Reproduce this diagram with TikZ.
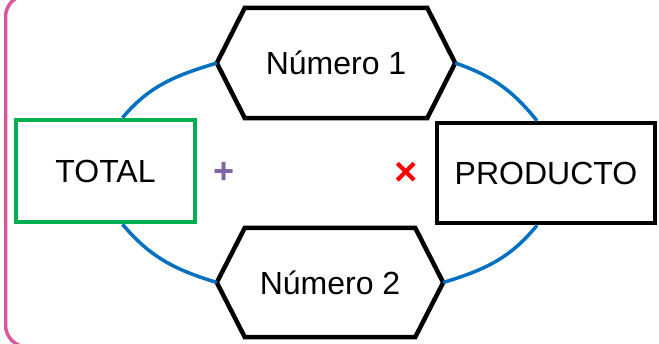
\documentclass[tikz,border=0pt]{standalone}
\usepackage{fontspec}
\setmainfont{Liberation Sans}
\usepackage{tikz}

\definecolor{linkblue}{HTML}{0070C0}
\definecolor{framepink}{HTML}{D9589C}
\definecolor{totalgreen}{HTML}{00B050}
\definecolor{opviolet}{HTML}{8064A2}

\tikzset{
    label font/.style = {font = \fontsize{32}{36}\selectfont},
    hexnode/.style = {label font, inner sep = 0pt},
    hexline/.style = {draw = black, line width = 4.5pt, line join = miter, fill = white},
    boxnode/.style = {label font, draw, line width = 4.5pt, fill = white, inner sep = 0pt},
    link/.style = {draw = linkblue, line width = 3.5pt},
}

\begin{document}
\begin{tikzpicture}[x = 1pt, y = 1pt]
        \clip (0, 0) rectangle (659, 343);
        % frame on the left
        \draw[framepink, line width = 3.5pt, rounded corners = 22] (80, 348) -- (5.5, 348) -- (5.5, -4) -- (80, -4);

        % the four terms
        \node[boxnode, draw = totalgreen, minimum width = 179, minimum height = 102] (total) at (105.5, 172) {TOTAL};
        \node[boxnode, minimum width = 218, minimum height = 100] (producto) at (546, 170) {PRODUCTO};
        \node[hexnode, minimum width = 182, minimum height = 110] (num1) at (336, 280) {Número 1};
        \node[hexnode, minimum width = 170, minimum height = 109] (num2) at (330, 60.5) {Número 2};

        \path[hexline] (num1.north west) -- (num1.north east) -- ([xshift = 28]num1.east) coordinate (num1r)
            -- (num1.south east) -- (num1.south west) -- ([xshift = -28]num1.west) coordinate (num1l) -- cycle;
        \path[hexline] (num2.north west) -- (num2.north east) -- ([xshift = 28]num2.east) coordinate (num2r)
            -- (num2.south east) -- (num2.south west) -- ([xshift = -28]num2.west) coordinate (num2l) -- cycle;
        \node[hexnode] at (num1) {Número 1};
        \node[hexnode] at (num2) {Número 2};

        % links
        \draw[link] ([xshift = 17]total.north) to[out = 50, in = 197] (num1l);
        \draw[link] (num1r) to[out = -19, in = 129] ([xshift = -9]producto.north);
        \draw[link] ([xshift = 17]total.south) to[out = -50, in = 163] (num2l);
        \draw[link] (num2r) to[out = 17, in = -129] ([xshift = -9]producto.south);

        % operators
        \node[text = opviolet, font = \fontsize{36}{36}\bfseries] (plus) at (224, 170) {+};
        \node[text = red, font = \fontsize{40}{40}\bfseries] (times) at (406, 169) {×};
    \end{tikzpicture}
\end{document}
